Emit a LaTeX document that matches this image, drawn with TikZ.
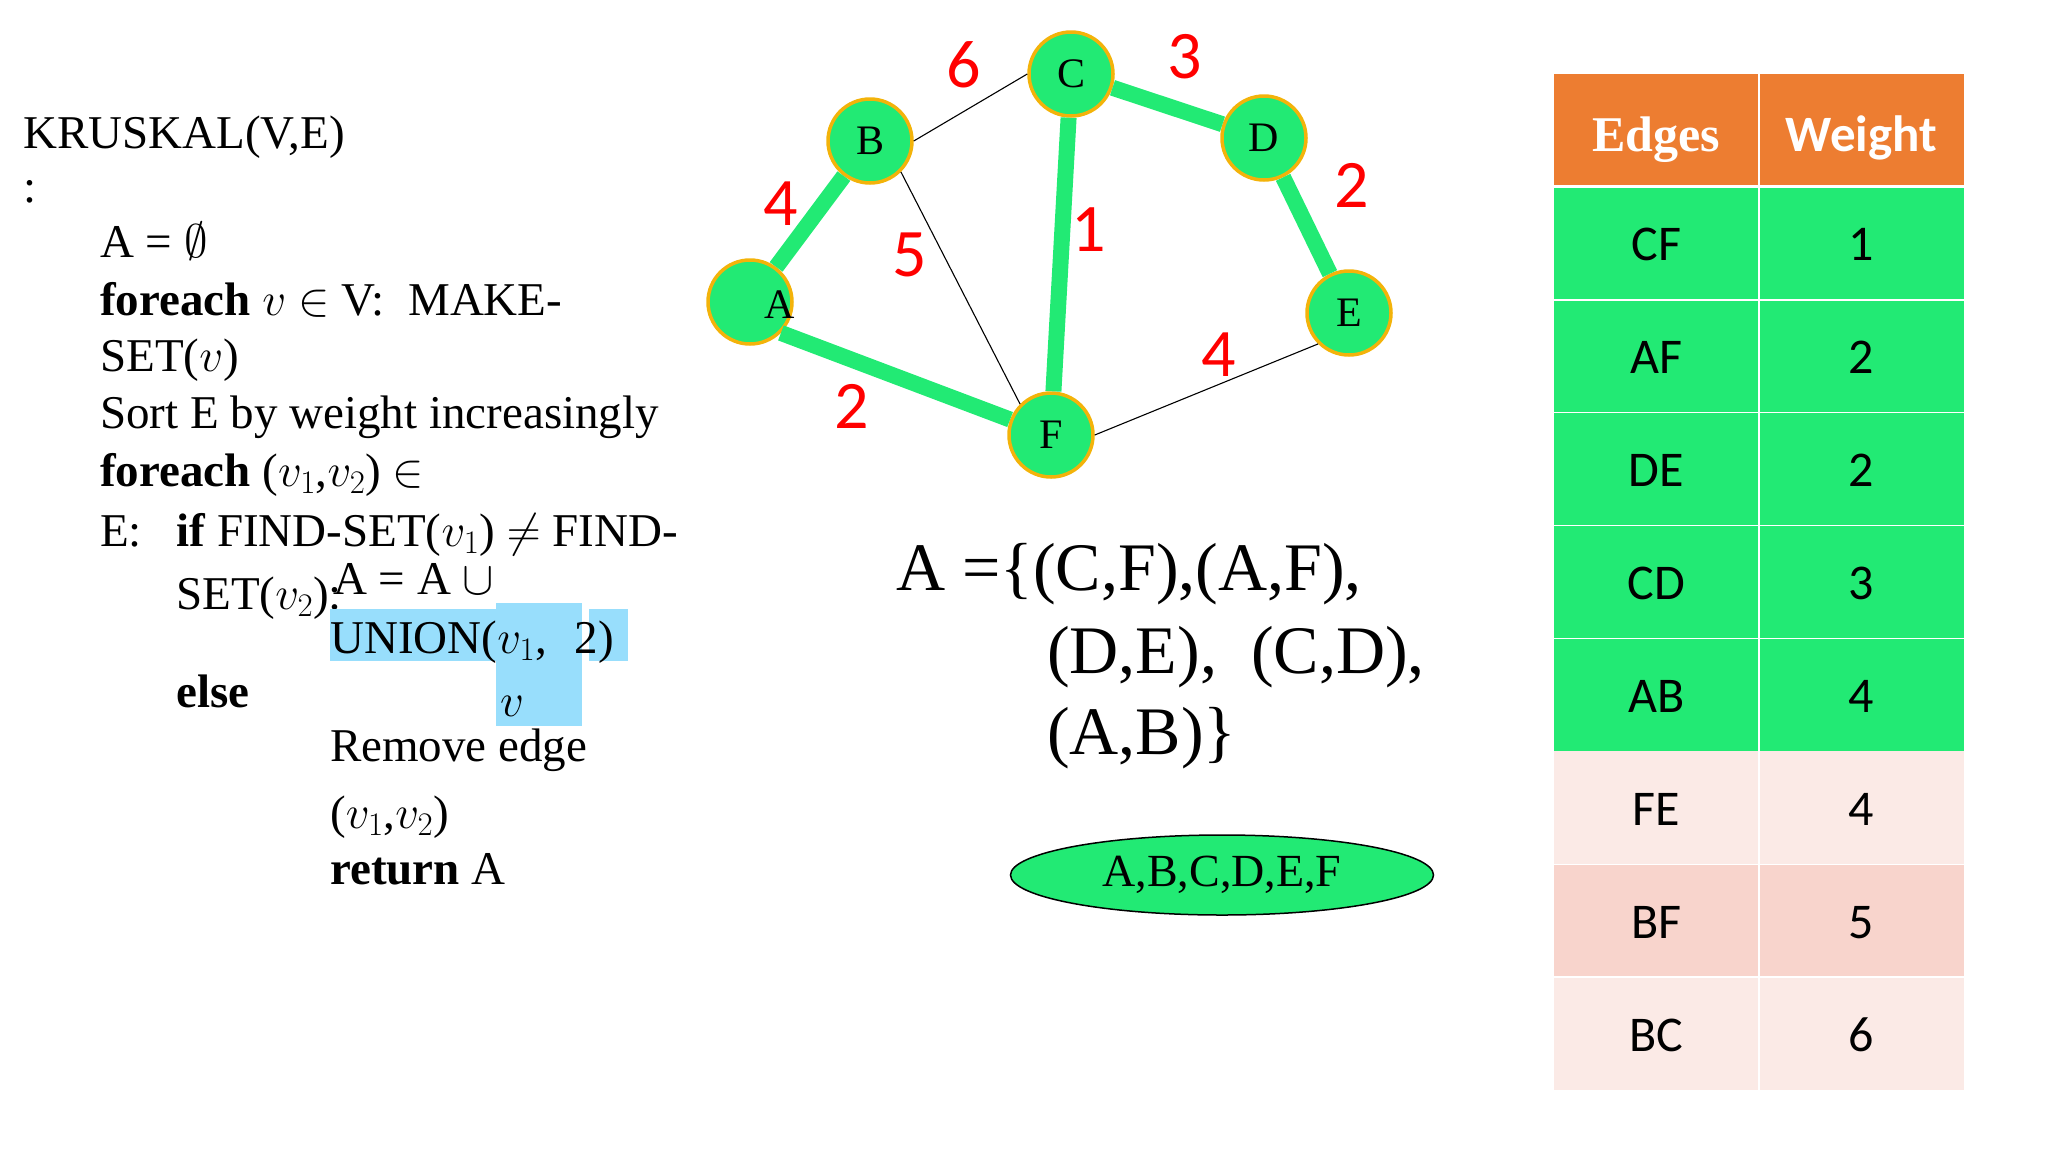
\RequirePackage{fix-cm}
\documentclass[tikz,border=0pt]{standalone}
\usepackage{fontspec}
\setmainfont{Liberation Serif}
\newfontfamily\carl{Carlito}
\usetikzlibrary{shapes.geometric}
\definecolor{gr}{HTML}{22EA74}
\definecolor{vborder}{HTML}{F3B30A}
\definecolor{hdr}{HTML}{ED7D31}
\definecolor{pinkA}{HTML}{FBEAE6}
\definecolor{pinkB}{HTML}{F8D4CC}
\definecolor{hl}{HTML}{98DEFC}
\newcommand\codefont{\fontsize{47}{56}\selectfont}
\begin{document}
\begin{tikzpicture}[x=1pt,y=-1pt,
  code/.style={anchor=base west,inner sep=0pt,font=\codefont},
  vtx/.style={circle,fill=gr,draw=vborder,line width=3.5pt,minimum size=84pt,inner sep=0pt,font=\fontsize{42}{50}\selectfont},
  treeedge/.style={draw=gr,line width=16pt},
  lightedge/.style={draw=black,line width=1.1pt},
  wt/.style={text=red,font=\carl\fontsize{68}{80}\selectfont,inner sep=0pt},
  cell/.style={anchor=base,inner sep=0pt,font=\carl\fontsize{50}{60}\selectfont},
  settext/.style={anchor=base west,inner sep=0pt,font=\fontsize{68}{80}\selectfont},
]
\useasboundingbox (0,0) rectangle (2048,1152);

% ---------- pseudo-code ----------
\node[code] (l1) at (23,148) {KRUSKAL(V,E)};
\node[code] (l2) at (23,202) {:};
\node[code] (l3) at (100,257) {A = $\emptyset$};
\node[code] (l4) at (100,315) {\textbf{foreach} $v$ $\in$ V:\ \ MAKE-};
\node[code] (l5) at (100,371) {SET($v$)};
\node[code] (l6) at (100,428) {Sort E by weight increasingly};
\node[code] (l7) at (100,486) {\textbf{foreach} ($v_1$,$v_2$) $\in$};
\node[code] (l8) at (100,546) {E:};
\node[code] (l9) at (176,546) {\textbf{if} FIND-SET($v_1$) $\neq$ FIND-};
\node[code] (l10) at (176,609) {SET($v_2$):};
\fill[hl] (330,609) rectangle (496,661);
\fill[hl] (496,603) rectangle (582,726);
\fill[hl] (589,609) rectangle (628,661);
\node[code] (l11) at (333,594) {A = A $\cup$};
\node[code] (l12) at (330,653) {UNION($v_1$,};
\node[code,anchor=base east] (l12b) at (614,653) {2)};
\node[code] (l13) at (500,716) {$v$};
\node[code] (l14) at (176,707) {\textbf{else}};
\node[code] (l15) at (330,761) {Remove edge};
\node[code] (l16) at (330,828) {($v_1$,$v_2$)};
\node[code] (l17) at (330,884) {\textbf{return} A};

% ---------- graph ----------
\node[vtx] (A) at (750,302) {};
\node[inner sep=0pt,font=\fontsize{42}{50}\selectfont] (Alab) at (780,305) {A};
\node[vtx] (B) at (870,141) {B};
\node[vtx] (C) at (1071,74) {C};
\node[vtx] (D) at (1264,138) {D};
\node[vtx] (E) at (1349,313) {E};
\node[vtx] (F) at (1051,435) {F};

\draw[treeedge] (A) -- (B);
\draw[treeedge] (A.south east) -- (F);
\draw[treeedge] (C) -- (F);
\draw[treeedge] (C) -- (D);
\draw[treeedge] (D) -- (E);
\draw[lightedge] (B.east) -- (C.west);
\draw[lightedge] (B.south east) -- (F.north west);
\draw[lightedge] (F.east) -- (E.south west);

\node[wt] (w6) at (964,65) {6};
\node[wt] (w3) at (1185,57) {3};
\node[wt] (w2de) at (1352,185) {2};
\node[wt] (w4ab) at (781,204) {4};
\node[wt] (w5) at (910,255) {5};
\node[wt] (w1) at (1089,230) {1};
\node[wt] (w4fe) at (1219,355) {4};
\node[wt] (w2af) at (852,406) {2};

% ---------- result set ----------
\node[settext] (s1) at (896,590) {A =\{(C,F),(A,F),};
\node[settext] (s2) at (1047,673) {(D,E),\ \ (C,D),};
\node[settext] (s3) at (1047,754) {(A,B)\}};

\node[ellipse,fill=gr,draw=black,line width=1.5pt,minimum width=423pt,minimum height=80pt,inner sep=0pt,font=\fontsize{46}{55}\selectfont] (set) at (1222,875) {A,B,C,D,E,F};

% ---------- table ----------
\fill[hdr] (1554,74) rectangle (1964,186.9);
\fill[gr] (1554,186.9) rectangle (1964,751.4);
\fill[pinkA] (1554,751.4) rectangle (1964,864.3);
\fill[pinkB] (1554,864.3) rectangle (1964,977.2);
\fill[pinkA] (1554,977.2) rectangle (1964,1090);
\draw[white,line width=3pt] (1554,186.9) -- (1964,186.9);
\foreach \yy in {299.8,412.7,525.6,638.5,864.3,977.2}
  \draw[white,line width=1.5pt] (1554,\yy) -- (1964,\yy);
\draw[white,line width=1.5pt] (1759,74) -- (1759,1090);

\node[anchor=base,inner sep=0pt,text=white,font=\bfseries\fontsize{50}{60}\selectfont] (h1) at (1656.5,151) {Edges};
\node[anchor=base,inner sep=0pt,text=white,font=\carl\bfseries\fontsize{51}{60}\selectfont] (h2) at (1861.5,151) {Weight};

\node[cell] (e1) at (1656.5,260) {CF}; \node[cell] (v1) at (1861.5,260) {1};
\node[cell] (e2) at (1656.5,373) {AF}; \node[cell] (v2) at (1861.5,373) {2};
\node[cell] (e3) at (1656.5,486) {DE}; \node[cell] (v3) at (1861.5,486) {2};
\node[cell] (e4) at (1656.5,599) {CD}; \node[cell] (v4) at (1861.5,599) {3};
\node[cell] (e5) at (1656.5,712) {AB}; \node[cell] (v5) at (1861.5,712) {4};
\node[cell] (e6) at (1656.5,825) {FE}; \node[cell] (v6) at (1861.5,825) {4};
\node[cell] (e7) at (1656.5,938) {BF}; \node[cell] (v7) at (1861.5,938) {5};
\node[cell] (e8) at (1656.5,1051) {BC}; \node[cell] (v8) at (1861.5,1051) {6};
\end{tikzpicture}
\end{document}
